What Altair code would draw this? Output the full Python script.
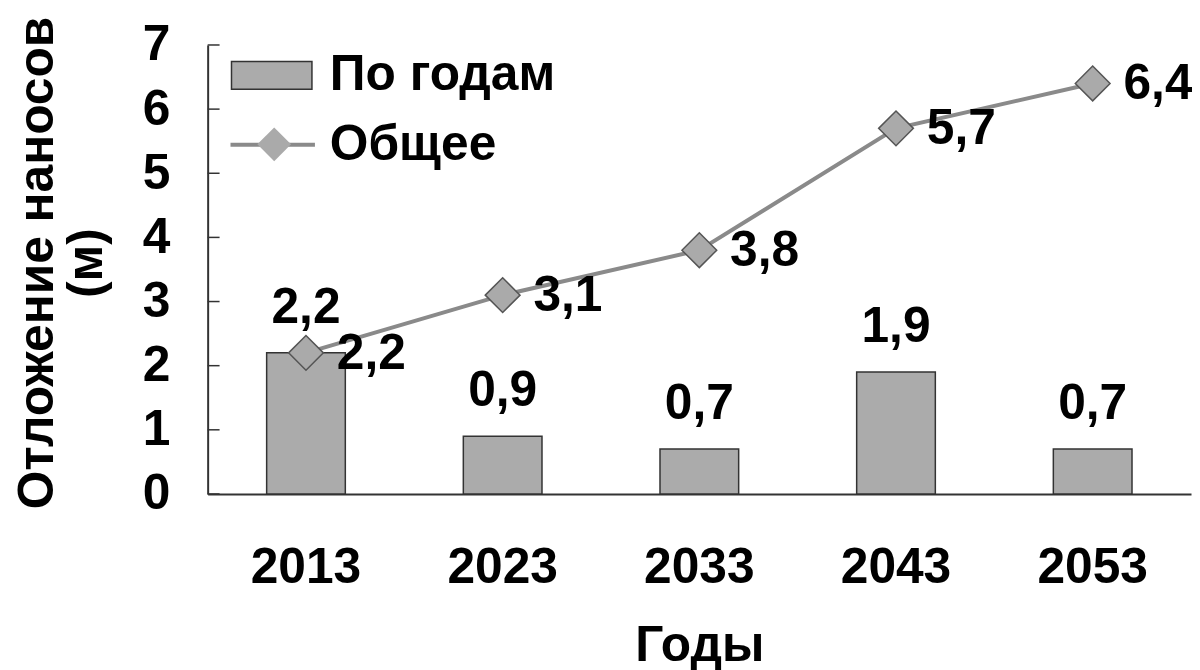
import altair as alt
import pandas as pd

years = ["2013", "2023", "2033", "2043", "2053"]
per_year = [2.2, 0.9, 0.7, 1.9, 0.7]
total = [2.2, 3.1, 3.8, 5.7, 6.4]
y_ticks = [0, 1, 2, 3, 4, 5, 6, 7]

FONT = "Liberation Sans"
FS = 50

df = pd.DataFrame({
    "year": years,
    "per_year": per_year,
    "total": total,
    "s_bar": ["По годам"] * len(years),
    "s_line": ["Общее"] * len(years),
})
ticks_df = pd.DataFrame({"t": y_ticks})

xenc = alt.X(
    "year:N",
    sort=years,
    scale=alt.Scale(paddingInner=0.6, paddingOuter=0.3),
    axis=alt.Axis(
        title="Годы", titleFont=FONT, titleFontSize=FS, titleFontWeight="bold",
        titleColor="black", titleBaseline="top", titleY=128,
        labelFont=FONT, labelFontSize=FS, labelFontWeight="bold", labelColor="black",
        labelAngle=0, labelPadding=49, ticks=False, tickSize=0,
        domainColor="#333333", domainWidth=2,
    ),
)
yscale = alt.Scale(domain=[0, 7], nice=False, zero=True)
yenc_bar = alt.Y(
    "per_year:Q", scale=yscale,
    axis=alt.Axis(
        values=y_ticks, format="d",
        title=["Отложение наносов", "(м)"], titleFont=FONT, titleFontSize=FS,
        titleFontWeight="bold", titleColor="black", titleAngle=270,
        titleBaseline="alphabetic", titleAlign="center", titleX=-156, titleY=219,
        titleLineHeight=49,
        labelFont=FONT, labelFontSize=FS, labelFontWeight="bold", labelColor="black",
        labelPadding=38, ticks=False, tickSize=0,
        domainColor="#333333", domainWidth=2,
    ),
)

leg_common = dict(
    title=None, orient="none", labelFont=FONT, labelFontSize=FS,
    labelFontWeight="bold", labelColor="black", labelLimit=0,
)

bars = alt.Chart(df).mark_bar(stroke="#333333", strokeWidth=1.5).encode(
    x=xenc,
    y=yenc_bar,
    fill=alt.Fill(
        "s_bar:N",
        scale=alt.Scale(domain=["По годам"], range=["#ababab"]),
        legend=alt.Legend(
            symbolType="M-1,-0.345L1,-0.345L1,0.345L-1,0.345Z", symbolSize=6561,
            symbolStrokeColor="#333333", symbolStrokeWidth=1.5,
            legendX=23, legendY=-11, labelOffset=17, **leg_common,
        ),
    ),
)

tick_rules = alt.Chart(ticks_df).mark_rule(color="#333333", strokeWidth=1.5).encode(
    y=alt.Y("t:Q", scale=yscale),
    x=alt.value(0),
    x2=alt.value(12),
)

line = alt.Chart(df).mark_line(strokeWidth=4).encode(
    x=alt.X("year:N", sort=years),
    y=alt.Y("total:Q", scale=yscale),
    stroke=alt.Stroke(
        "s_line:N",
        scale=alt.Scale(domain=["Общее"], range=["#8a8a8a"]),
        legend=alt.Legend(
            symbolType="M-1,0L1,0", symbolSize=7225, symbolStrokeWidth=4,
            legendX=21, legendY=56, labelOffset=13, **leg_common,
        ),
    ),
)

points = alt.Chart(df).mark_point(
    filled=False, fill="#aaaaaa", fillOpacity=1, stroke="#555555", strokeWidth=1.5,
    opacity=1, size=1225
).encode(
    x=alt.X("year:N", sort=years),
    y=alt.Y("total:Q", scale=yscale),
    shape=alt.Shape(
        "s_line:N",
        scale=alt.Scale(range=["diamond"]),
        legend=alt.Legend(
            symbolSize=1150, symbolFillColor="#aaaaaa", symbolStrokeColor="#444444",
            symbolStrokeWidth=1.5, symbolOpacity=1, labelExpr="''",
            legendX=42, legendY=75, labelOffset=0, **leg_common,
        ),
    ),
)

bar_text = alt.Chart(df).transform_calculate(
    lab="replace(format(datum.per_year, '.1f'), '.', ',')"
).mark_text(
    font=FONT, fontSize=FS, fontWeight="bold", color="black",
    baseline="alphabetic", align="center", dy=-30,
).encode(
    x=alt.X("year:N", sort=years),
    y=alt.Y("per_year:Q", scale=yscale),
    text="lab:N",
)

line_text = alt.Chart(df).transform_calculate(
    lab="replace(format(datum.total, '.1f'), '.', ',')"
).mark_text(
    font=FONT, fontSize=FS, fontWeight="bold", color="black",
    baseline="middle", align="left", dx=31, dy=1,
).encode(
    x=alt.X("year:N", sort=years),
    y=alt.Y("total:Q", scale=yscale),
    text="lab:N",
)

chart = alt.layer(bars, tick_rules, line, points, bar_text, line_text).properties(
    width=990,
    height=452,
    autosize=alt.AutoSizeParams(type="none"),
    padding={"left": 201, "top": 35, "right": 1, "bottom": 175},
    background="white",
).configure_view(stroke=None).configure_axis(grid=False)

chart.save("out.html", embed_options={"renderer": "svg", "actions": False})
